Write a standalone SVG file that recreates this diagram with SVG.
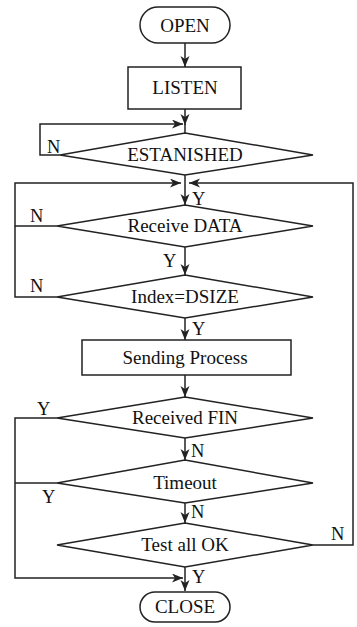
<svg xmlns="http://www.w3.org/2000/svg" width="357" height="627" viewBox="0 0 357 627">
<style>
.s{fill:#fff;stroke:#222;stroke-width:1.5}
.c{fill:none;stroke:#222;stroke-width:1.5}
.a{marker-end:url(#ah)}
text{font-family:"Liberation Serif","Times New Roman",serif;fill:#111}
.t{font-size:19px;text-anchor:middle}
.l{font-size:18.5px}
</style>
<defs>
<marker id="ah" markerUnits="userSpaceOnUse" markerWidth="12" markerHeight="10" refX="11" refY="4.5" orient="auto">
<path d="M0,0 L11,4.5 L0,9 L3,4.5 Z" fill="#222"/>
</marker>
</defs>
<rect width="357" height="627" fill="#fff"/>
<g id="connectors">
<path class="c a" d="M185,43 V67"/>
<path class="c a" d="M185,109 V125"/>
<path class="c" d="M185,124 V133"/>
<path class="c a" d="M60,155 H40 V124 H183"/>
<path class="c a" d="M185,175 V205"/>
<path class="c a" d="M57,226 H15 V183 H181"/>
<path class="c" d="M57,297 H15 V226"/>
<path class="c a" d="M313,545 H353 V183 H189"/>
<path class="c a" d="M185,247 V275"/>
<path class="c a" d="M185,318 V340"/>
<path class="c a" d="M185,375 V397"/>
<path class="c a" d="M185,438 V460"/>
<path class="c a" d="M185,503 V523"/>
<path class="c a" d="M185,567 V591"/>
<path class="c a" d="M57,418 H15 V578 H183"/>
<path class="c" d="M57,483 H15"/>
<text class="l" x="47" y="153">N</text>
<text class="l" x="192" y="205">Y</text>
<text class="l" x="30" y="222">N</text>
<text class="l" x="163" y="267">Y</text>
<text class="l" x="30" y="292">N</text>
<text class="l" x="192" y="335">Y</text>
<text class="l" x="37" y="415">Y</text>
<text class="l" x="191" y="457">N</text>
<text class="l" x="42" y="503">Y</text>
<text class="l" x="191" y="518">N</text>
<text class="l" x="331" y="540">N</text>
<text class="l" x="192" y="583">Y</text>
</g>
<g id="open"><rect class="s" x="140" y="7" width="90" height="36" rx="18"/><text class="t" x="185" y="32">OPEN</text></g>
<g id="listen"><rect class="s" x="128" y="67" width="113" height="42"/><text class="t" x="185" y="94">LISTEN</text></g>
<g id="established"><polygon class="s" points="185,133 313,155 185,175 60,155"/><text class="t" x="185" y="161">ESTANISHED</text></g>
<g id="receive"><polygon class="s" points="185,205 313,226 185,247 57,226"/><text class="t" x="185" y="232">Receive DATA</text></g>
<g id="index"><polygon class="s" points="185,275 313,297 185,318 57,297"/><text class="t" x="185" y="303">Index=DSIZE</text></g>
<g id="sending"><rect class="s" x="82" y="340" width="209" height="35"/><text class="t" x="185" y="364">Sending Process</text></g>
<g id="fin"><polygon class="s" points="185,397 313,418 185,438 57,418"/><text class="t" x="185" y="424">Received FIN</text></g>
<g id="timeout"><polygon class="s" points="185,460 313,483 185,503 57,483"/><text class="t" x="185" y="489">Timeout</text></g>
<g id="test"><polygon class="s" points="185,523 313,545 185,567 57,545"/><text class="t" x="185" y="551">Test all OK</text></g>
<g id="close"><rect class="s" x="140" y="592" width="90" height="30" rx="15"/><text class="t" x="185" y="613">CLOSE</text></g>
</svg>
